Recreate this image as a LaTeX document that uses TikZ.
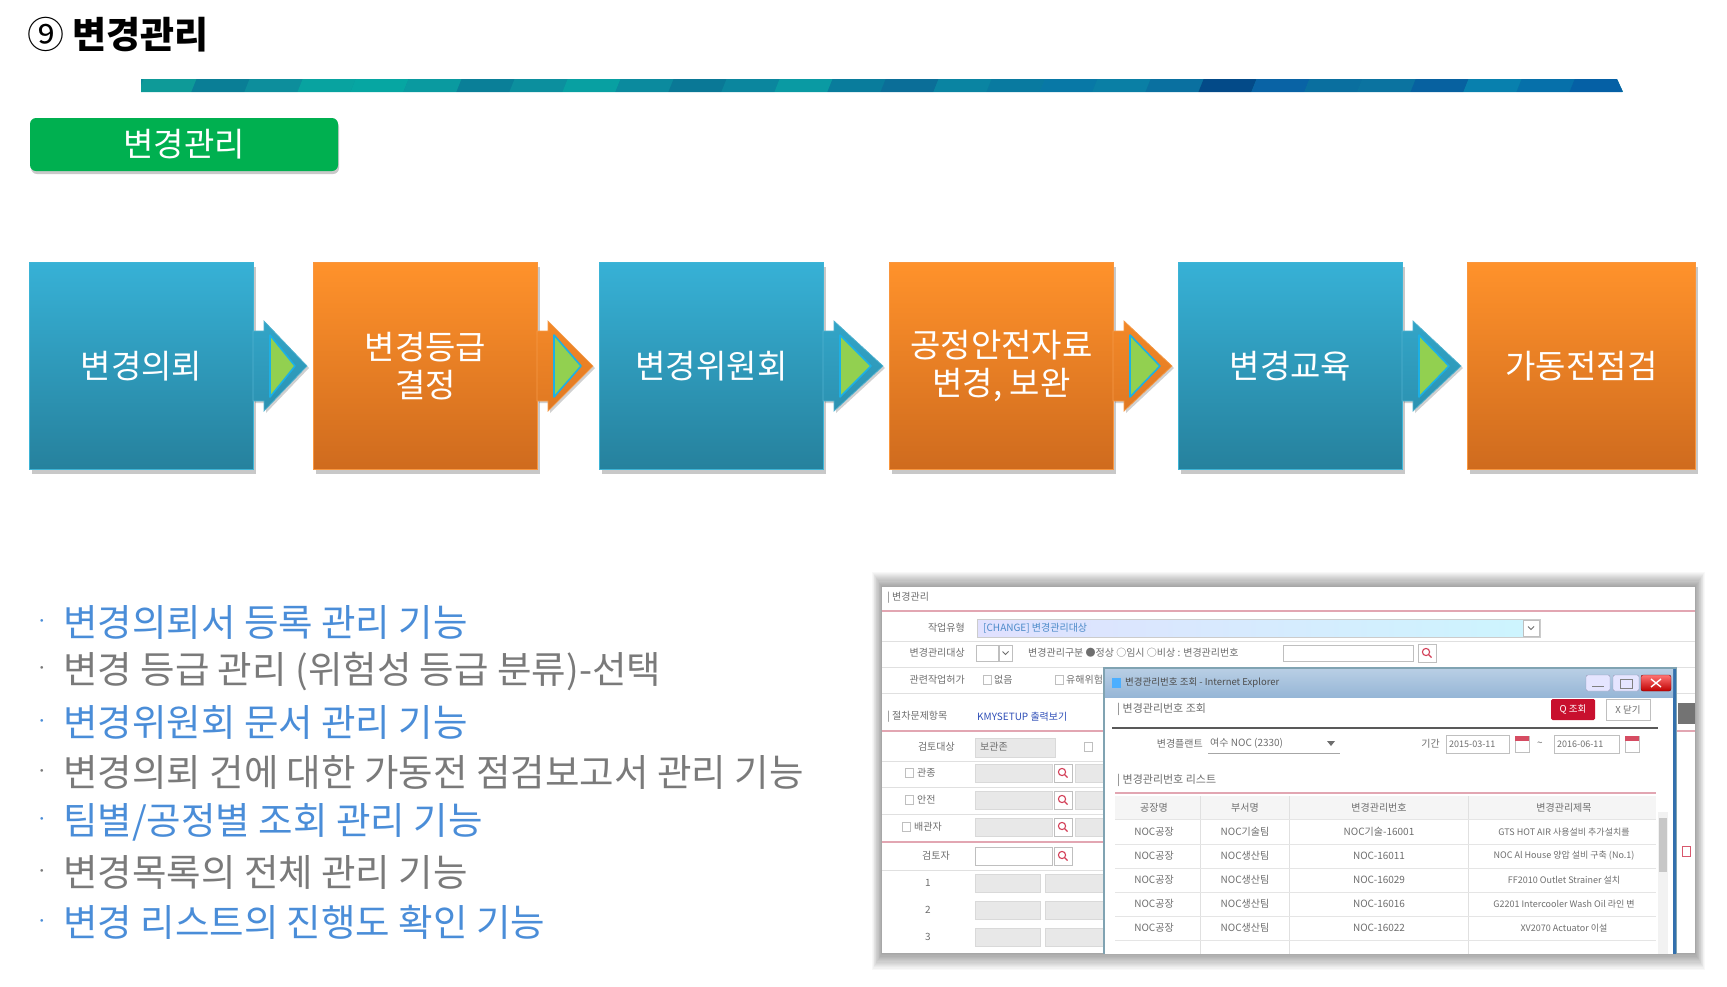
\documentclass[tikz,border=0pt]{standalone}
\usepackage{fontspec}
\newfontfamily\kr{Noto Sans CJK KR}
\newfontfamily\krs{Noto Sans CJK KR}
\usetikzlibrary{calc,shadows}
\definecolor{bluetop}{HTML}{37B1D6}
\definecolor{bluebot}{HTML}{26819D}
\definecolor{bluebrd}{HTML}{3DB4D6}
\definecolor{orgtop}{HTML}{FF922B}
\definecolor{orgbot}{HTML}{CF6B1E}
\definecolor{orgbrd}{HTML}{F9963E}
\definecolor{btngreen}{HTML}{00B050}
\definecolor{arrgreen}{HTML}{92D050}
\definecolor{arrline}{HTML}{1CB0E6}
\definecolor{txtblue}{HTML}{4A8DD8}
\definecolor{txtgray}{HTML}{7A7A7A}
\definecolor{ssg}{HTML}{6E6E6E}
\definecolor{sspink}{HTML}{E2A6B2}
\definecolor{ssred}{HTML}{C8102E}
\definecolor{ssblue}{HTML}{2F4FB8}
\tikzset{
  pbox/.style={minimum width=224pt, minimum height=207pt, inner sep=0pt, anchor=north west,
    align=center, text=white, font=\kr\fontsize{33}{38.5}\selectfont, line width=1pt,
    drop shadow={shadow xshift=2pt, shadow yshift=-4pt, opacity=0.3, fill=black!70}},
  bluebox/.style={pbox, top color=bluetop, bottom color=bluebot, draw=bluebrd},
  orangebox/.style={pbox, top color=orgtop, bottom color=orgbot, draw=orgbrd},
  bul/.style={anchor=west, inner sep=0pt, font=\kr\fontsize{37.5}{44}\selectfont},
  sst/.style={anchor=west, inner sep=0pt, text=ssg, font=\krs\fontsize{10}{12}\selectfont},
  ssc/.style={sst, anchor=center},
  sse/.style={sst, anchor=east},
  fld/.style={draw=black!25, fill=white, line width=0.6pt},
  gfld/.style={draw=black!15, fill=black!9, line width=0.5pt},
  sep/.style={draw=black!12, line width=0.6pt},
}
\newcommand\bdot{\makebox[33.5pt][l]{\raisebox{4pt}{\rmfamily\fontsize{34}{40}\selectfont ·}}}
\newcommand\flowchev[4]{%
  \coordinate (#1s) at (#1.east);
  \coordinate (#1t) at ($(#2.west)+(-6,0)$);
  \path[top color=#3, bottom color=#4, draw=#3!85!white, line width=0.7pt,
        drop shadow={shadow xshift=2pt, shadow yshift=-2pt, opacity=0.3, fill=black!60}]
    ($(#1s)+(-1,-35)$) -- ($(#1s)+(10,-35)$) -- ($(#1s)+(10,-45)$) -- (#1t)
    -- ($(#1s)+(10,45)$) -- ($(#1s)+(10,35)$) -- ($(#1s)+(-1,35)$) -- cycle;
  \path[fill=arrgreen, draw=arrline, line width=1.6pt, line join=round]
    ($(#1s)+(16,-31)$) -- ($(#1t)+(-12,0)$) -- ($(#1s)+(16,31)$) -- cycle;
}
\newcommand\magbox[2]{%
  \path[fld] ({#1-9},{#2-9}) rectangle ({#1+9},{#2+9});
  \draw[ssred!80, line width=1.1pt] ({#1-1},{#2-1}) circle (3.6pt);
  \draw[ssred!80, line width=1.3pt] ({#1+1.8},{#2+1.8}) -- ({#1+4.5},{#2+4.5});
}
\newcommand\chkbox[2]{\path[fld] ({#1-4},{#2-4.5}) rectangle ({#1+4},{#2+4.5});}
\newcommand\ddarrow[2]{\draw[ssg, line width=0.9pt] ({#1-3},{#2-1.5}) -- (#1,{#2+1.5}) -- ({#1+3},{#2-1.5});}
\begin{document}
\begin{tikzpicture}[x=1pt,y=-1pt]
\useasboundingbox (0,0) rectangle (1727,986);
\fill[white] (0,0) rectangle (1727,986);

% ---------- title ----------
\node[anchor=west, inner sep=0pt, font=\kr\fontsize{37}{44}\selectfont] (title) at (27,35) {⑨ \bfseries 변경관리};

% ---------- top bar ----------
\begin{scope}
  \clip (141,79) -- (1617,79) -- (1623,92) -- (141,92) -- cycle;
  \fill[fill={rgb,255:red,10;green,138;blue,152}] (141,79) rectangle (1630,92);
  \foreach \c [count=\i from 0] in {0E9A98,0A7E96,0D8E9C,08A3A0,06A6A2,0A9AA0,0A7F98,0C8F9E,08A0A2,0B8A9E,0A7896,0B869E,0A9AA3,097C9C,0B6E98,0A84A2,097AA0,0878A6,0A7FA5,0A70A0,034A88,0963A5,0A6F9F,0B73A0,0761A0,0880AE,0670AA,0560A5} {
    \definecolor{segc}{HTML}{\c}
    \fill[segc] ({141+53*\i+3},78) -- ({141+53*\i+56},78) -- ({141+53*\i+50},93) -- ({141+53*\i-3},93) -- cycle;
  }
\end{scope}

% ---------- green label ----------
\node[fill=btngreen, rounded corners=6pt, minimum width=308pt, minimum height=53pt, inner sep=0pt,
      text=white, font=\kr\fontsize{33}{38}\selectfont,
      drop shadow={shadow xshift=1pt, shadow yshift=-3pt, opacity=0.35, fill=black!60}] (gbtn) at (184,144.5) {변경관리};

% ---------- process boxes ----------
\node[bluebox]   (b1) at (29,262)   {변경의뢰};
\node[orangebox] (b2) at (313,262)  {변경등급\\결정};
\node[bluebox]   (b3) at (599,262)  {변경위원회};
\node[orangebox] (b4) at (889,262)  {공정안전자료\\변경, 보완};
\node[bluebox]   (b5) at (1178,262) {변경교육};
\node[orangebox, minimum width=228pt] (b6) at (1467,262) {가동전점검};

\flowchev{b1}{b2}{bluetop!75!bluebot}{bluetop!35!bluebot}
\flowchev{b2}{b3}{orgtop!75!orgbot}{orgtop!35!orgbot}
\flowchev{b3}{b4}{bluetop!75!bluebot}{bluetop!35!bluebot}
\flowchev{b4}{b5}{orgtop!75!orgbot}{orgtop!35!orgbot}
\flowchev{b5}{b6}{bluetop!75!bluebot}{bluetop!35!bluebot}

% ---------- bullet list ----------
\node[bul, text=txtblue] (l1) at (29.5,622) {\bdot 변경의뢰서 등록 관리 기능};
\node[bul, text=txtgray] (l2) at (29.5,672) {\bdot 변경 등급 관리 (위험성 등급 분류)-선택};
\node[bul, text=txtblue] (l3) at (29.5,722) {\bdot 변경위원회 문서 관리 기능};
\node[bul, text=txtgray] (l4) at (29.5,772) {\bdot 변경의뢰 건에 대한 가동전 점검보고서 관리 기능};
\node[bul, text=txtblue] (l5) at (29.5,822) {\bdot 팀별/공정별 조회 관리 기능};
\node[bul, text=txtgray] (l6) at (29.5,872) {\bdot 변경목록의 전체 관리 기능};
\node[bul, text=txtblue] (l7) at (29.5,922) {\bdot 변경 리스트의 진행도 확인 기능};

% ---------- screenshot ----------
\foreach \k in {1,...,14} \fill[black, opacity=0.028] ({882-\k*0.7},{587-\k*1.1}) rectangle ({1695+\k*0.7},{953+\k*1.2});
\fill[white] (882,587) rectangle (1695,953);
\begin{scope}
\clip (882,587) rectangle (1695,953);
% main form
\node[sst] (s0) at (887,598) {| 변경관리};
\draw[sspink, line width=1.5pt] (882,611) -- (1695,611);
\node[sse] (s1) at (965,628) {작업유형};
\path[left color=black!4!blue!12!white, right color=black!6!blue!20!cyan!20!white, draw=black!20] (977,619) rectangle (1540,637);
\node[sst, text=blue!50!cyan!70!black!70] (s2) at (983,628) {[CHANGE] 변경관리대상};
\path[fld] (1523,620) rectangle (1539,636);
\ddarrow{1531}{628}
\path[sep] (882,641) -- (1695,641);
\node[sse] (s3) at (965,653) {변경관리대상};
\path[fld] (976,645) rectangle (998,661);
\path[fld] (999,645) rectangle (1012,661);
\ddarrow{1005.5}{653}
\node[sst] (s4) at (1028,653) {변경관리구분 ●정상 ○임시 ○비상 : 변경관리번호};
\path[fld] (1283,645) rectangle (1413,661);
\magbox{1427}{653}
\path[sep] (882,667) -- (1695,667);
\node[sse] (s5) at (965,680) {관련작업허가};
\chkbox{987}{680}
\node[sst] (s6) at (994,680) {없음};
\chkbox{1059}{680}
\node[sst] (s7) at (1066,680) {유해위험};
\path[sep] (882,693) -- (1695,693);
\node[sst] (s8) at (887,717) {| 절차문제항목};
\node[sst, text=ssblue] (s9) at (977,717) {KMYSETUP 출력보기};
\draw[sspink, line width=1.5pt] (882,731) -- (1695,731);
% left table
\node[sse] (s10) at (955,747) {검토대상};
\path[gfld] (975,738) rectangle (1055,757);
\node[sst] (s11) at (980,747) {보관존};
\chkbox{1088}{747}
\path[sep] (882,761) -- (1105,761);
\chkbox{909}{773}
\node[sst] (s12) at (917,773) {관종};
\path[gfld] (975,764) rectangle (1052,782);
\magbox{1063}{773}
\path[gfld] (1075,764) rectangle (1105,782);
\path[sep] (882,787) -- (1105,787);
\chkbox{909}{800}
\node[sst] (s13) at (917,800) {안전};
\path[gfld] (975,791) rectangle (1052,809);
\magbox{1063}{800}
\path[gfld] (1075,791) rectangle (1105,809);
\path[sep] (882,814) -- (1105,814);
\chkbox{906}{827}
\node[sst] (s14) at (914,827) {배관자};
\path[gfld] (975,818) rectangle (1052,836);
\magbox{1063}{827}
\path[gfld] (1075,818) rectangle (1105,836);
\draw[sspink, line width=1.5pt] (882,842) -- (1105,842);
\node[sse] (s15) at (950,856) {검토자};
\path[fld] (975,847) rectangle (1052,865);
\magbox{1063}{856}
\path[sep] (882,870) -- (1105,870);
\node[ssc] (s16) at (928,883) {1};
\path[gfld] (975,874) rectangle (1040,892);
\path[gfld] (1045,874) rectangle (1105,892);
\node[ssc] (s17) at (928,910) {2};
\path[gfld] (975,901) rectangle (1040,919);
\path[gfld] (1045,901) rectangle (1105,919);
\node[ssc] (s18) at (928,937) {3};
\path[gfld] (975,928) rectangle (1040,946);
\path[gfld] (1045,928) rectangle (1105,946);
% right strip of main window
\fill[black!55] (1678,703) rectangle (1695,724);
\draw[ssred!70, line width=1pt] (1682,846) rectangle (1690,856);
% popup window
\path[fill=white, draw=blue!30!cyan!40!black!50, line width=1.4pt] (1104,668) rectangle (1676,970);
\draw[blue!50!cyan!60!black!80, line width=3pt] (1674,669) -- (1674,970);
\path[top color={rgb,255:red,184;green,206;blue,228}, bottom color={rgb,255:red,150;green,182;blue,214}] (1105,669) rectangle (1673,697);
\fill[blue!45!cyan!70] (1112,678) rectangle (1121,688);
\node[sst, font=\krs\fontsize{9.5}{11}\selectfont, text=black!70] (p0) at (1125,683) {변경관리번호 조회 - Internet Explorer};
\path[fill=blue!10!white, draw=blue!30!black!40, rounded corners=2pt] (1586,675) rectangle (1610,691);
\path[fill=blue!10!white, draw=blue!30!black!40, rounded corners=2pt] (1613,675) rectangle (1639,691);
\path[top color=red!55!white, bottom color=red!75!black, draw=red!50!black, rounded corners=2pt] (1641,675) rectangle (1671,691);
\draw[white, line width=1.4pt] (1651,679) -- (1661,687) (1651,687) -- (1661,679);
\draw[black!50, line width=1pt] (1592,686) -- (1604,686);
\draw[black!50, line width=0.8pt] (1620,679) rectangle (1632,688);
\node[sst, font=\krs\fontsize{11}{13}\selectfont] (p1) at (1117,709) {| 변경관리번호 조회};
\node[fill=ssred, text=white, inner sep=0pt, minimum width=44pt, minimum height=21pt, rounded corners=1.5pt,
      font=\krs\fontsize{9.5}{11}\selectfont] (p2) at (1573,709.5) {Q 조회};
\node[fld, text=ssg, inner sep=0pt, minimum width=44pt, minimum height=21pt,
      font=\krs\fontsize{9.5}{11}\selectfont] (p3) at (1628,709.5) {X 닫기};
\draw[black!65, line width=2pt] (1112,728) -- (1658,728);
\node[sse] (p4) at (1203,744) {변경플랜트};
\node[sst] (p5) at (1210,743) {여수 NOC (2330)};
\draw[black!35, line width=1pt] (1208,753) -- (1340,753);
\fill[ssg] (1327,741) -- (1335,741) -- (1331,746) -- cycle;
\node[sse] (p6) at (1440,744) {기간};
\path[fld] (1446,735) rectangle (1509,753);
\node[sst, font=\krs\fontsize{9}{11}\selectfont] (p7) at (1449,744) {2015-03-11};
\path[fld] (1515,736) rectangle (1529,752);
\fill[ssred!75] (1515,736) rectangle (1529,741);
\node[ssc] (p8) at (1540,744) {\textasciitilde};
\path[fld] (1554,735) rectangle (1619,753);
\node[sst, font=\krs\fontsize{9}{11}\selectfont] (p9) at (1557,744) {2016-06-11};
\path[fld] (1625,736) rectangle (1639,752);
\fill[ssred!75] (1625,736) rectangle (1639,741);
\node[sst, font=\krs\fontsize{11}{13}\selectfont] (p10) at (1117,780) {| 변경관리번호 리스트};
\draw[sspink, line width=1.6pt] (1115,793) -- (1656,793);
\fill[black!4] (1115,796) rectangle (1656,819);
\foreach \xx in {1200,1289,1468} \draw[black!12] (\xx,796) -- (\xx,960);
\foreach \yy in {819,844,868,892,916,940} \draw[black!10] (1115,\yy) -- (1656,\yy);
\node[ssc] (h1) at (1154,808) {공장명};
\node[ssc] (h2) at (1245,808) {부서명};
\node[ssc] (h3) at (1379,808) {변경관리번호};
\node[ssc] (h4) at (1564,808) {변경관리제목};
\node[ssc] (r11) at (1154,832) {NOC공장};
\node[ssc] (r12) at (1245,832) {NOC기술팀};
\node[ssc] (r13) at (1379,832) {NOC기술-16001};
\node[ssc, font=\krs\fontsize{9}{11}\selectfont] (r14) at (1564,832) {GTS HOT AIR 사용설비 추가설치를};
\node[ssc] (r21) at (1154,856) {NOC공장};
\node[ssc] (r22) at (1245,856) {NOC생산팀};
\node[ssc] (r23) at (1379,856) {NOC-16011};
\node[ssc, font=\krs\fontsize{9}{11}\selectfont] (r24) at (1564,856) {NOC Al House 양압 설비 구축 (No.1)};
\node[ssc] (r31) at (1154,880) {NOC공장};
\node[ssc] (r32) at (1245,880) {NOC생산팀};
\node[ssc] (r33) at (1379,880) {NOC-16029};
\node[ssc, font=\krs\fontsize{9}{11}\selectfont] (r34) at (1564,880) {FF2010 Outlet Strainer 설치};
\node[ssc] (r41) at (1154,904) {NOC공장};
\node[ssc] (r42) at (1245,904) {NOC생산팀};
\node[ssc] (r43) at (1379,904) {NOC-16016};
\node[ssc, font=\krs\fontsize{9}{11}\selectfont] (r44) at (1564,904) {G2201 Intercooler Wash Oil 라인 변};
\node[ssc] (r51) at (1154,928) {NOC공장};
\node[ssc] (r52) at (1245,928) {NOC생산팀};
\node[ssc] (r53) at (1379,928) {NOC-16022};
\node[ssc, font=\krs\fontsize{9}{11}\selectfont] (r54) at (1564,928) {XV2070 Actuator 이설};
\fill[black!5] (1658,812) rectangle (1668,960);
\fill[black!22] (1659,818) rectangle (1667,872);
\end{scope}
\end{tikzpicture}
\end{document}
